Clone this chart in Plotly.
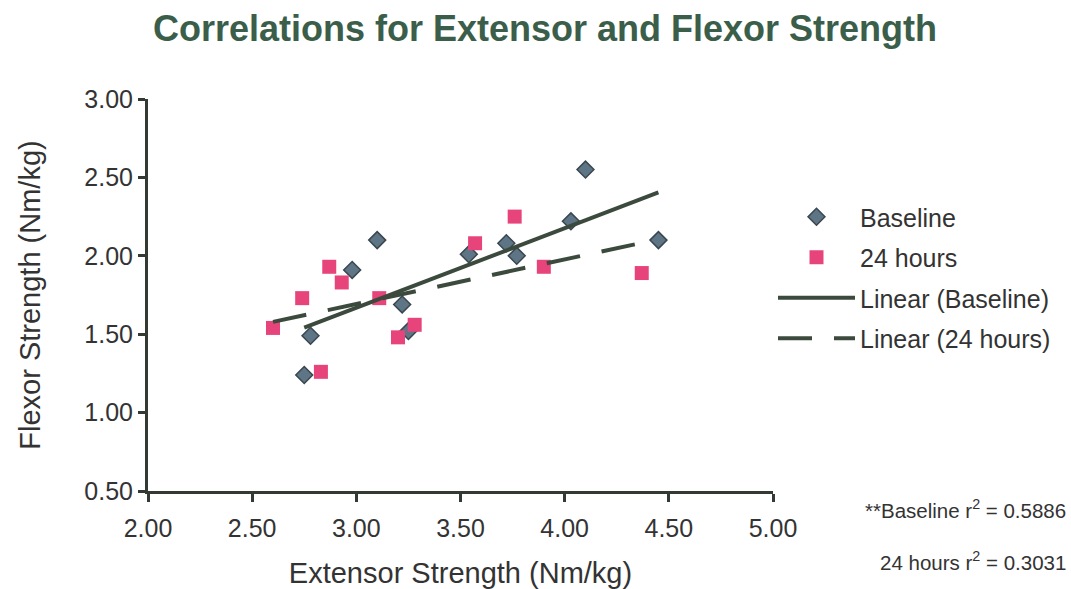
import numpy as np
import plotly.graph_objects as go

# Data
baseline_x = [2.75, 2.78, 2.98, 3.10, 3.22, 3.25, 3.54, 3.72, 3.77, 4.03, 4.10, 4.45]
baseline_y = [1.24, 1.49, 1.91, 2.10, 1.69, 1.52, 2.01, 2.08, 2.00, 2.22, 2.55, 2.10]
hours24_x = [2.60, 2.74, 2.83, 2.87, 2.93, 3.11, 3.20, 3.28, 3.57, 3.76, 3.90, 4.37]
hours24_y = [1.54, 1.73, 1.26, 1.93, 1.83, 1.73, 1.48, 1.56, 2.08, 2.25, 1.93, 1.89]
x_ticks = [2.00, 2.50, 3.00, 3.50, 4.00, 4.50, 5.00]
y_ticks = [0.50, 1.00, 1.50, 2.00, 2.50, 3.00]
r2_baseline = "0.5886"
r2_24h = "0.3031"

axis_col = "#323a33"
text_col = "#333333"
line_col = "#3c4a3e"
font = "Liberation Sans, Arial, sans-serif"


def trend(xs, ys):
    m, b = np.polyfit(xs, ys, 1)
    xx = np.array([min(xs), max(xs)])
    return xx, m * xx + b


fig = go.Figure()
fig.add_trace(go.Scatter(
    x=baseline_x, y=baseline_y, mode="markers", name="Baseline",
    legendgroup="a",
    marker=dict(symbol="diamond", size=13, color="#5d7585",
                line=dict(color="#3a4650", width=1.5))))
fig.add_trace(go.Scatter(
    x=hours24_x, y=hours24_y, mode="markers", name="24 hours",
    legendgroup="b",
    marker=dict(symbol="square", size=14, color="#e8447c",
                line=dict(color="#e8447c", width=0))))
tx, ty = trend(baseline_x, baseline_y)
fig.add_trace(go.Scatter(
    x=tx, y=ty, mode="lines", name="Linear (Baseline)", legendgroup="c",
    line=dict(color=line_col, width=4)))
tx, ty = trend(hours24_x, hours24_y)
fig.add_trace(go.Scatter(
    x=tx, y=ty, mode="lines", name="Linear (24 hours)", legendgroup="d",
    line=dict(color=line_col, width=4, dash="34px,22px")))

fig.update_layout(
    width=1071, height=589,
    margin=dict(l=148, r=298, t=99, b=98, autoexpand=False),
    paper_bgcolor="white", plot_bgcolor="white",
    font=dict(family=font, color=text_col, size=25),
    title=dict(text="<b>Correlations for Extensor and Flexor Strength</b>",
               x=545 / 1071, xanchor="center", y=1 - 28 / 589, yanchor="middle",
               font=dict(size=36, color="#3b5e4a", family=font)),
    showlegend=True,
    legend=dict(x=1.0, xanchor="left", y=(491 - 194) / 392, yanchor="top",
                font=dict(size=25, color=text_col), bgcolor="rgba(0,0,0,0)",
                traceorder="grouped", tracegroupgap=5, itemwidth=77),
    xaxis=dict(range=[2, 5], tickvals=x_ticks, automargin=False,
               ticktext=[f"{v:.2f}" for v in x_ticks],
               showgrid=False, zeroline=False,
               showline=True, linecolor=axis_col, linewidth=3,
               ticks="outside", ticklen=8, tickwidth=3, tickcolor=axis_col,
               ticklabelstandoff=5,
               title=dict(text="Extensor Strength (Nm/kg)", font=dict(size=29), standoff=23),
               tickfont=dict(size=25)),
    yaxis=dict(range=[0.5, 3.0], tickvals=y_ticks, automargin=False,
               ticktext=[f"{v:.2f}" for v in y_ticks],
               showgrid=False, zeroline=False,
               showline=True, linecolor=axis_col, linewidth=3,
               ticks="outside", ticklen=7, tickwidth=3, tickcolor=axis_col,
               title=dict(text="Flexor Strength (Nm/kg)", font=dict(size=29), standoff=36),
               tickfont=dict(size=25)),
)

note_font = dict(family="Liberation Sans Narrow, Arial Narrow, Liberation Sans, sans-serif",
                 size=20.5, color=text_col)
fig.add_annotation(text=f"**Baseline r<sup>2</sup> = {r2_baseline}", xref="paper", yref="paper",
                   x=(1068 - 148) / 625, y=(491 - 509) / 392, xanchor="right", yanchor="middle",
                   showarrow=False, font=note_font)
fig.add_annotation(text=f"24 hours r<sup>2</sup> = {r2_24h}", xref="paper", yref="paper",
                   x=(1068 - 148) / 625, y=(491 - 561) / 392, xanchor="right", yanchor="middle",
                   showarrow=False, font=note_font)

fig.write_html("out.html")
